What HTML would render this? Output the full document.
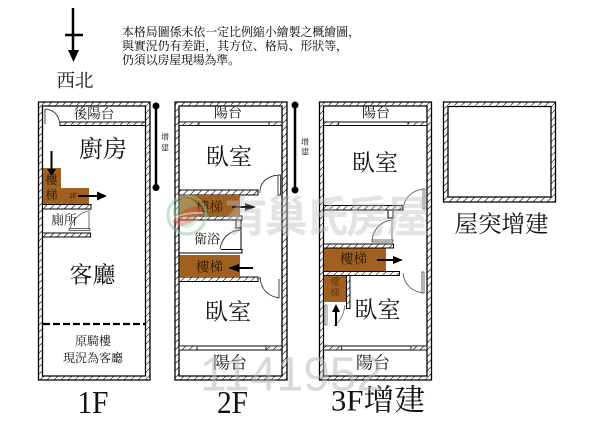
<!DOCTYPE html>
<html><head><meta charset="utf-8">
<style>
html,body{margin:0;padding:0;background:#fff}
svg{display:block}
text{font-family:"Liberation Serif","Noto Serif CJK SC","Noto Serif CJK TC",serif;fill:#111;text-anchor:middle;dominant-baseline:central}
</style></head><body>
<svg width="600" height="432" viewBox="0 0 600 432" xmlns="http://www.w3.org/2000/svg">
<defs>
<pattern id="h" width="7" height="7" patternUnits="userSpaceOnUse">
<rect width="7" height="7" fill="#fff"/>
<path d="M-1 8L8 -1" stroke="#444" stroke-width=".8"/>
</pattern>
</defs>
<rect width="600" height="432" fill="#fff"/>

<!-- north arrow -->
<path d="M73 8V52" stroke="#000" stroke-width="2.5"/>
<path d="M65 35H83" stroke="#000" stroke-width="2.5"/>
<path d="M68 50H79L73.5 62Z" fill="#000"/>
<text x="75" y="82" font-size="18.5">西北</text>
<g font-size="11.9">
<text x="122" y="32" textLength="238" style="text-anchor:start;fill:#000">本格局圖係未依一定比例縮小繪製之概繪圖，</text>
<text x="122" y="46" textLength="226" style="text-anchor:start;fill:#000">與實況仍有差距，其方位、格局、形狀等，</text>
<text x="122" y="60" textLength="118" style="text-anchor:start;fill:#000">仍須以房屋現場為準。</text>
</g>

<!-- 1F -->
<g stroke="#000" stroke-width="1.3">
<path fill="url(#h)" fill-rule="evenodd" d="M38.5 102H150V380H38.5ZM42.5 106V376H145.5V106Z"/>
<path fill="url(#h)" d="M60 122H145.5V125.5H60Z" stroke-width="1"/>
<path fill="url(#h)" d="M42.5 204.5H91V209H42.5Z" stroke-width="1"/>
<path fill="url(#h)" d="M42.5 233H90.5V237H42.5Z" stroke-width="1"/>
</g>
<path d="M43 168H61V188H89V204H43Z" fill="#a0601f"/>
<path d="M89 209V229M69 228.5H90V230.5H69Z" stroke="#333" fill="#fff" stroke-width=".7"/>
<path d="M70 228Q74 215 88 211" fill="none" stroke="#555" stroke-width=".8"/>
<path d="M45 109V124M45 109Q58 110 60 124" fill="none" stroke="#444" stroke-width="1"/>
<path d="M43 324H145" stroke="#000" stroke-width="2.3" stroke-dasharray="7 3"/>
<path d="M51.5 151V172" stroke="#000" stroke-width="2"/>
<path d="M47 169H56L51.5 176Z" fill="#000"/>
<path d="M78 196H98" stroke="#000" stroke-width="2"/>
<path d="M97 191.5L107 196L97 200.5Z" fill="#000"/>
<text x="94" y="114" font-size="13.5">後陽台</text>
<text x="103" y="150" font-size="24">廚房</text>
<text x="51.5" y="180" font-size="12" style="fill:#2a1806">樓</text>
<text x="51.5" y="195" font-size="12" style="fill:#2a1806">梯</text>
<text x="73" y="196" font-size="7" style="fill:#2a1806">2F</text>
<text x="64" y="220" font-size="13">廁所</text>
<text x="92.5" y="275" font-size="23">客廳</text>
<text x="93" y="341" font-size="12">原騎樓</text>
<text x="93" y="358" font-size="12">現況為客廳</text>
<text x="93" y="402" font-size="32" textLength="31" lengthAdjust="spacingAndGlyphs">1F</text>

<!-- extension 1 -->
<path d="M156 106V187.5" stroke="#000" stroke-width="2.5"/>
<circle cx="156" cy="106" r="3.5"/><circle cx="156" cy="187.5" r="3.5"/>
<text x="165" y="137" font-size="8">增</text><text x="165" y="148" font-size="8">建</text>

<!-- 2F -->
<g stroke="#000" stroke-width="1.3">
<path fill="url(#h)" fill-rule="evenodd" d="M175 102H287V380H175ZM179 106V376H282V106Z"/>
<path d="M179 122H282V125.5H179Z" fill="#fff" stroke-width="1"/>
<rect x="179" y="122" width="20" height="3.5" fill="url(#h)" stroke-width=".8"/>
<rect x="269" y="122" width="13" height="3.5" fill="url(#h)" stroke-width=".8"/>
<rect x="179" y="190" width="79" height="5" fill="url(#h)" stroke-width="1"/>
<rect x="179" y="216" width="63" height="4" fill="url(#h)" stroke-width="1"/>
<rect x="179" y="277" width="79" height="4.5" fill="url(#h)" stroke-width="1"/>
<path d="M179 346H282V350H179Z" fill="#fff" stroke-width="1"/>
<rect x="179" y="346" width="18" height="4" fill="url(#h)" stroke-width=".8"/>
<rect x="266" y="346" width="16" height="4" fill="url(#h)" stroke-width=".8"/>
<rect x="236" y="220" width="5" height="8" fill="#fff" stroke-width="1"/>
<path d="M241 228V250" stroke-width="1" fill="none"/>
<path d="M221 249.5H242V253H179" fill="none" stroke-width="1"/>
</g>
<rect x="179.5" y="195" width="60.5" height="21" fill="#a0601f"/>
<rect x="179.5" y="255" width="60.5" height="22" fill="#a0601f"/>
<path d="M278 175H280.5V195H278ZM278 175Q262 177 260 190" fill="#fff" stroke="#333" stroke-width=".9"/>
<path d="M260 190V193" stroke="#333" stroke-width=".8"/>
<path d="M259 278H261M279 279V298M260 278Q262 295 279 298" fill="none" stroke="#333" stroke-width=".9"/>
<path d="M220 249Q223 232 240 230" fill="none" stroke="#333" stroke-width=".9"/>
<path d="M232 207H246" stroke="#222" stroke-width="2"/>
<path d="M245 203L256 207L245 211Z" fill="#222"/>
<path d="M238 268H253" stroke="#000" stroke-width="2"/>
<path d="M239 264L228 268L239 272Z" fill="#000"/>
<text x="228" y="114" font-size="14">陽台</text>
<text x="229" y="157" font-size="23">臥室</text>
<text x="209.5" y="207" font-size="13.5" style="fill:#3a2208">樓梯</text>
<text x="207" y="239" font-size="13">衛浴</text>
<text x="209.5" y="267" font-size="13.5" style="fill:#2e1a06">樓梯</text>
<text x="228" y="312" font-size="23">臥室</text>
<text x="230" y="363" font-size="17">陽台</text>
<text x="232.5" y="402" font-size="32" textLength="31" lengthAdjust="spacingAndGlyphs">2F</text>

<!-- extension 2 -->
<path d="M295 105V190" stroke="#000" stroke-width="2.5"/>
<circle cx="295" cy="105" r="3.5"/><circle cx="295" cy="190" r="3.5"/>
<text x="305" y="142" font-size="8">增</text><text x="305" y="152" font-size="8">建</text>

<!-- 3F -->
<g stroke="#000" stroke-width="1.3">
<path fill="url(#h)" fill-rule="evenodd" d="M319.5 102H431.5V380H319.5ZM323.5 106V376H427V106Z"/>
<path d="M323.5 122H427V125.5H323.5Z" fill="#fff" stroke-width="1"/>
<rect x="323.5" y="122" width="15" height="3.5" fill="url(#h)" stroke-width=".8"/>
<rect x="408" y="122" width="19" height="3.5" fill="url(#h)" stroke-width=".8"/>
<rect x="323.5" y="205.5" width="79.5" height="4.5" fill="url(#h)" stroke-width="1"/>
<rect x="388" y="210" width="5" height="8" fill="#fff" stroke-width="1"/>
<rect x="323.5" y="244" width="70" height="4" fill="url(#h)" stroke-width="1"/>
<rect x="323.5" y="271.5" width="76" height="4" fill="url(#h)" stroke-width="1"/>
<rect x="346.5" y="275.5" width="3.5" height="33" fill="url(#h)" stroke-width="1"/>
<path d="M323.5 346H427V350H323.5Z" fill="#fff" stroke-width="1"/>
<rect x="323.5" y="346" width="18" height="4" fill="url(#h)" stroke-width=".8"/>
<rect x="411" y="346" width="16" height="4" fill="url(#h)" stroke-width=".8"/>
</g>
<rect x="324" y="248.5" width="62" height="22.5" fill="#a0601f"/>
<rect x="324" y="276" width="22" height="26" fill="#a0601f"/>
<path d="M372 240H393V242H372Z" fill="#fff" stroke="#333" stroke-width=".8"/>
<path d="M372 240Q375 223 391 220M392 218V240" fill="none" stroke="#444" stroke-width=".8"/>
<path d="M404 205Q407 192 423 189M423 189V209H425V189H423" fill="#fff" stroke="#555" stroke-width=".8"/>
<path d="M403 273Q405 290 423 293M422 272V293H424V272Z" fill="none" stroke="#444" stroke-width=".8"/>
<path d="M325 305V325M327 305V325M325 305H327M325 325H327M345 305Q343 320 334 326" fill="none" stroke="#666" stroke-width=".8"/>
<path d="M336 326V310" stroke="#000" stroke-width="2"/>
<path d="M332 312L336 304L340 312Z" fill="#000"/>
<path d="M377 260H394" stroke="#000" stroke-width="2"/>
<path d="M393 256L403 260L393 264Z" fill="#000"/>
<text x="376" y="114" font-size="14">陽台</text>
<text x="375" y="163" font-size="23">臥室</text>
<text x="353.5" y="259" font-size="13.5" style="fill:#2e1a06">樓梯</text>
<text x="335" y="283" font-size="9.5" style="fill:#5a3210">樓</text>
<text x="335" y="294" font-size="9.5" style="fill:#5a3210">梯</text>
<text x="377.5" y="310" font-size="23">臥室</text>
<text x="373" y="363" font-size="17">陽台</text>
<text x="378" y="401" font-size="30" textLength="94" lengthAdjust="spacingAndGlyphs">3F增建</text>

<!-- roof -->
<path fill="url(#h)" fill-rule="evenodd" stroke="#000" stroke-width="1.3" d="M443.5 102H555.5V202H443.5ZM448 106.5V197H551V106.5Z"/>
<text x="501.5" y="225" font-size="23.5">屋突增建</text>

<!-- watermark -->
<g opacity=".5">
<circle cx="187" cy="215" r="19" fill="none" stroke="#8fc79a" stroke-width="3"/>
<ellipse cx="186" cy="213" rx="13" ry="15" fill="#a8d5ae" opacity=".8"/>
<path d="M172 222Q186 203 203 207Q196 226 178 226Z" fill="#d9604a" opacity=".85"/>
<path d="M172 218Q186 212 203 213" stroke="#fff" stroke-width="2" fill="none"/>
</g>
<text x="327" y="218" font-size="43" font-weight="700" textLength="205" style="font-family:'Liberation Sans','Noto Sans CJK TC',sans-serif;fill:#bdbdbd" opacity=".42">有巢氏房屋</text>
<text x="200" y="375" font-size="48" style="font-family:'Liberation Sans',sans-serif;text-anchor:start;fill:#b5b5b5" opacity=".5">1141952</text>
</svg>
</body></html>
